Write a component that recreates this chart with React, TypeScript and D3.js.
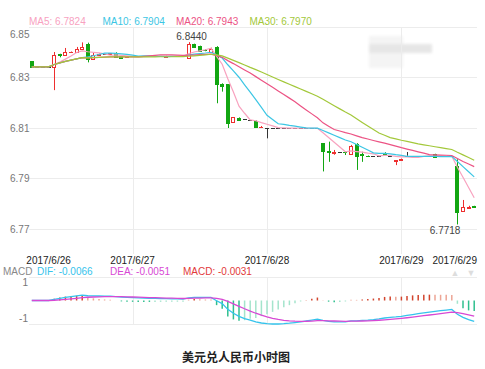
import React from "react";
import * as d3 from "d3";

// ---- data (hourly candles) ----
const opens = [
  6.8365, 6.8342, 6.8342, 6.8342, 6.8342, 6.8393, 6.8391, 6.84, 6.8401, 6.8413,
  6.8433, 6.8372, 6.839, 6.8392, 6.8395, 6.8398, 6.8385, 6.838, 6.8384, 6.8384,
  6.8384, 6.8384, 6.8384, 6.8384, 6.8383, 6.8384, 6.8384, 6.8384, 6.8376, 6.8433,
  6.8425, 6.841, 6.8402, 6.8422, 6.8275, 6.8273, 6.8125, 6.8141, 6.8134, 6.8133,
  6.8128, 6.8103, 6.81, 6.81, 6.8099, 6.8099, 6.8099, 6.8099, 6.8099, 6.8099,
  6.8099, 6.8099, 6.8039, 6.801, 6.8, 6.8006, 6.8006, 6.7999, 6.8037, 6.7996,
  6.799, 6.7989, 6.799, 6.8, 6.799, 6.7971, 6.7974, 6.799, 6.799, 6.799,
  6.799, 6.799, 6.7997, 6.7989, 6.7989, 6.7989, 6.795, 6.7772, 6.7785, 6.7791,
];
const highs = [
  6.8365, 6.8342, 6.8342, 6.8342, 6.8401, 6.8394, 6.8417, 6.8403, 6.8421, 6.8439,
  6.8438, 6.8397, 6.8395, 6.8392, 6.8397, 6.84, 6.8386, 6.8383, 6.8384, 6.8384,
  6.8384, 6.8384, 6.8384, 6.8384, 6.8386, 6.8384, 6.8384, 6.8384, 6.844, 6.8434,
  6.8426, 6.8412, 6.8418, 6.8424, 6.8277, 6.8274, 6.8143, 6.8142, 6.8134, 6.8133,
  6.813, 6.8108, 6.81, 6.81, 6.8099, 6.8099, 6.8099, 6.8099, 6.8099, 6.8099,
  6.8099, 6.8099, 6.804, 6.8046, 6.8013, 6.8006, 6.8007, 6.8033, 6.804, 6.8006,
  6.7991, 6.7989, 6.799, 6.8004, 6.799, 6.7973, 6.7979, 6.8005, 6.799, 6.799,
  6.799, 6.799, 6.7998, 6.7989, 6.7989, 6.7989, 6.7976, 6.7815, 6.7792, 6.7792,
];
const lows = [
  6.8342, 6.8342, 6.8342, 6.8342, 6.825, 6.838, 6.839, 6.8399, 6.84, 6.841,
  6.836, 6.837, 6.8389, 6.8392, 6.8394, 6.8378, 6.8377, 6.8379, 6.8384, 6.8384,
  6.8384, 6.8384, 6.8384, 6.8384, 6.8383, 6.8384, 6.8384, 6.8384, 6.8375, 6.8419,
  6.8405, 6.8404, 6.84, 6.8198, 6.8244, 6.81, 6.8122, 6.813, 6.8134, 6.8133,
  6.8102, 6.8101, 6.8059, 6.81, 6.8099, 6.8099, 6.8099, 6.8099, 6.8099, 6.8099,
  6.8099, 6.8099, 6.7928, 6.7966, 6.7994, 6.8006, 6.7993, 6.7998, 6.7934, 6.7966,
  6.7987, 6.7989, 6.799, 6.7994, 6.799, 6.7953, 6.7972, 6.799, 6.799, 6.799,
  6.799, 6.799, 6.7985, 6.7989, 6.7989, 6.7989, 6.7718, 6.777, 6.7782, 6.7786,
];
const closes = [
  6.8342, 6.8342, 6.8342, 6.8342, 6.8389, 6.839, 6.8401, 6.8402, 6.8413, 6.8422,
  6.8372, 6.8389, 6.8392, 6.8392, 6.8396, 6.838, 6.8378, 6.8382, 6.8384, 6.8384,
  6.8384, 6.8384, 6.8384, 6.8384, 6.8385, 6.8384, 6.8384, 6.8384, 6.8433, 6.842,
  6.8406, 6.8407, 6.8413, 6.8273, 6.8265, 6.8119, 6.8142, 6.8132, 6.8134, 6.8133,
  6.8103, 6.8105, 6.81, 6.81, 6.8099, 6.8099, 6.8099, 6.8099, 6.8099, 6.8099,
  6.8099, 6.8099, 6.801, 6.8004, 6.8005, 6.8006, 6.8004, 6.8029, 6.799, 6.7993,
  6.7988, 6.7989, 6.799, 6.7998, 6.799, 6.7973, 6.7977, 6.799, 6.799, 6.799,
  6.799, 6.799, 6.7986, 6.7989, 6.7989, 6.7989, 6.7769, 6.7788, 6.7786, 6.7787,
];

const priceTicks = [6.85, 6.83, 6.81, 6.79, 6.77];
const dateTickIdx = [3, 18, 42, 66, 79];
const dateTickLabels = ["2017/6/26", "2017/6/27", "2017/6/28", "2017/6/29", "2017/6/29"];
const gridDateIdx = [18, 42, 66];

const maPeriods = [5, 10, 20, 30];
const maNames = ["MA5", "MA10", "MA20", "MA30"];
const maLegendValues = ["6.7824", "6.7904", "6.7943", "6.7970"];
const maColors = ["#f8a2bf", "#3cc6e4", "#ec5384", "#a3c83a"];

const macdNames = ["DIF", "DEA", "MACD"];
const macdLegendValues = ["-0.0066", "-0.0051", "-0.0031"];
const macdColors = ["#35c3ec", "#d748d4", "#e23a3a"];
const macdTickLabels = ["1", "-1"];

const title = "美元兑人民币小时图";
const highLabel = "6.8440";
const lowLabel = "6.7718";

const FONT = "'Liberation Sans', Arial, Helvetica, sans-serif";

function movingAverage(vals: number[], n: number) {
  return vals.map((_, i) => {
    const s = Math.max(0, i - n + 1);
    const sl = vals.slice(s, i + 1);
    return d3.mean(sl) as number;
  });
}

export default function App() {
  const N = closes.length;
  const plotL = 29, plotR = 477;
  const x = d3.scaleBand<number>().domain(d3.range(N)).range([plotL, plotR]).paddingInner(0.28).paddingOuter(0.14);
  const bw = x.bandwidth();
  const cx = (i: number) => (x(i) as number) + bw / 2;

  const y = d3.scaleLinear().domain([6.77, 6.85]).range([229, 27]);

  const mas = maPeriods.map((p) => movingAverage(closes, p));

  // MACD
  let e12 = closes[0], e26 = closes[0], dea = 0;
  const difs: number[] = [], deas: number[] = [], hist: number[] = [];
  closes.forEach((c) => {
    e12 = e12 * 11 / 13 + c * 2 / 13;
    e26 = e26 * 25 / 27 + c * 2 / 27;
    const dif = e12 - e26;
    dea = dea * 8 / 10 + dif * 2 / 10;
    difs.push(dif);
    deas.push(dea);
    hist.push(2 * (dif - dea));
  });
  const maxAbs = d3.max([...difs, ...deas].map(Math.abs)) as number;
  const my = d3.scaleLinear().domain([-maxAbs, maxAbs]).range([324, 277]);
  const macdTickVals = [maxAbs * 0.745, -maxAbs * 0.745];

  const line = d3.line<number>().x((_, i) => cx(i)).y((v) => y(v));
  const mline = d3.line<number>().x((_, i) => cx(i)).y((v) => my(v));

  const red = "#ee2f2f", green = "#12a612", flat = "#333";
  const FS = 10;

  return (
    <svg width={485} height={369} style={{ position: "absolute", left: 0, top: 0, background: "#fff" }} fontFamily={FONT}>
      <defs>
        <filter id="blur"><feGaussianBlur stdDeviation="1.6" /></filter>
      </defs>
      {/* watermark */}
      <g filter="url(#blur)">
        <rect x={369} y={36} width={34} height={32} fill="#f4f4f4" />
        <rect x={369} y={44} width={63} height={9} fill="#e6e6e6" />
      </g>

      {/* main grid */}
      {priceTicks.map((t) => (
        <line key={t} x1={plotL} x2={plotR} y1={Math.round(y(t)) + 0.5} y2={Math.round(y(t)) + 0.5} stroke="#ececec" />
      ))}
      {gridDateIdx.map((i) => (
        <line key={i} x1={Math.round(cx(i)) + 0.5} x2={Math.round(cx(i)) + 0.5} y1={27} y2={254} stroke="#ececec" />
      ))}
      {priceTicks.map((t) => (
        <text key={t} x={10} y={Math.max(y(t), 34)} dy="0.35em" fontSize={FS} fill="#777">{t.toFixed(2)}</text>
      ))}

      {/* legend */}
      {maNames.map((n, k) => (
        <text key={n} x={29 + k * 73.5} y={25} fontSize={FS} fill={maColors[k]}>{`${n}: ${maLegendValues[k]}`}</text>
      ))}

      {/* candles */}
      {closes.map((c, i) => {
        const o = opens[i];
        const col = c > o ? red : c < o ? green : flat;
        const xc = Math.round(cx(i)) + 0.5;
        const x0 = Math.round(x(i) as number);
        const yo = Math.round(y(o)), yc = Math.round(y(c));
        const top = Math.min(yo, yc), h = Math.abs(yo - yc);
        return (
          <g key={i}>
            {highs[i] !== lows[i] && (
              <line x1={xc} x2={xc} y1={y(highs[i])} y2={y(lows[i])} stroke={col} strokeWidth={1} />
            )}
            {h < 1 ? (
              <line x1={x0} x2={x0 + Math.round(bw)} y1={yc + 0.5} y2={yc + 0.5} stroke={col} strokeWidth={1} />
            ) : c > o ? (
              <rect x={x0 + 0.5} y={top + 0.5} width={Math.round(bw) - 1} height={h} fill="#fff" stroke={col} strokeWidth={1} />
            ) : (
              <rect x={x0} y={top} width={Math.round(bw)} height={h + 1} fill={col} />
            )}
          </g>
        );
      })}

      {/* MA lines */}
      {mas.map((m, k) => (
        <path key={k} d={line(m) as string} fill="none" stroke={maColors[k]} strokeWidth={1.2} />
      ))}

      <text x={cx(28) + 3} y={40} fontSize={FS} fill="#444" textAnchor="middle">{highLabel}</text>
      <text x={cx(76) + 3} y={234} fontSize={FS} fill="#444" textAnchor="end">{lowLabel}</text>

      {/* date labels */}
      {dateTickIdx.map((i, k) => (
        <text key={k} x={k === dateTickIdx.length - 1 ? plotR : cx(i)} y={264} fontSize={FS} fill="#222"
          textAnchor={k === dateTickIdx.length - 1 ? "end" : "middle"}>{dateTickLabels[k]}</text>
      ))}

      {/* MACD legend */}
      <text x={3} y={275} fontSize={FS} fill="#888">MACD</text>
      {macdNames.map((n, k) => (
        <text key={n} x={[37, 110, 183][k]} y={275} fontSize={FS} fill={macdColors[k]}>{`${n}: ${macdLegendValues[k]}`}</text>
      ))}
      <text x={455} y={276} fontSize={9} fill="#ddd" textAnchor="middle">▲</text>
      <text x={471} y={276} fontSize={9} fill="#ddd" textAnchor="middle">▼</text>

      {/* MACD grid */}
      <line x1={plotL} x2={plotR} y1={277.5} y2={277.5} stroke="#ececec" />
      <line x1={plotL} x2={plotR} y1={324.5} y2={324.5} stroke="#ececec" />
      {gridDateIdx.map((i) => (
        <line key={i} x1={Math.round(cx(i)) + 0.5} x2={Math.round(cx(i)) + 0.5} y1={277} y2={325} stroke="#ececec" />
      ))}
      {macdTickVals.map((v, k) => (
        <text key={k} x={28} y={my(v)} dy="0.35em" fontSize={FS} fill="#777" textAnchor="end">{macdTickLabels[k]}</text>
      ))}

      {/* histogram */}
      {hist.map((h, i) => {
        if (Math.abs(my(h) - my(0)) < 0.3) return null;
        const growing = i === 0 || Math.abs(h) >= Math.abs(hist[i - 1]);
        const col = h > 0 ? (growing ? "#d2452e" : "#eda595") : (growing ? "#2fbf8e" : "#a4e4cc");
        return <line key={i} x1={cx(i)} x2={cx(i)} y1={my(0)} y2={my(h)} stroke={col} strokeWidth={1.5} />;
      })}
      <path d={mline(difs) as string} fill="none" stroke={macdColors[0]} strokeWidth={1.3} />
      <path d={mline(deas) as string} fill="none" stroke={macdColors[1]} strokeWidth={1.3} />

      {/* title */}
      <text x={236} y={362} fontSize={12} fontWeight="bold" fill="#222" textAnchor="middle"
        fontFamily="'Noto Sans CJK SC', sans-serif">{title}</text>
    </svg>
  );
}
